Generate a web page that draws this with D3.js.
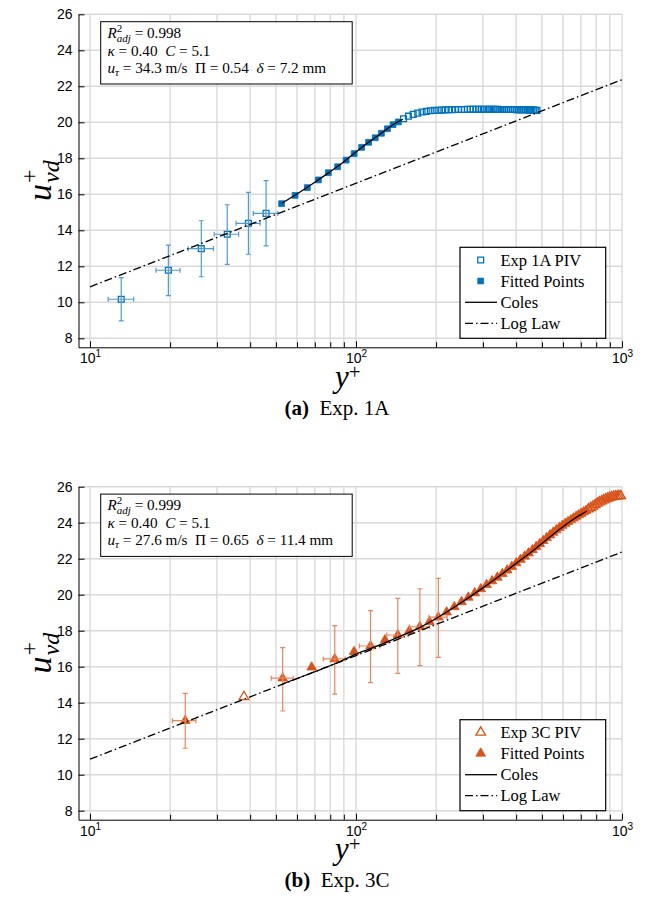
<!DOCTYPE html>
<html>
<head>
<meta charset="utf-8">
<script src="https://cdn.jsdelivr.net/npm/d3@7"></script>
<style>
  body { margin: 0; background: #fff; }
  text { white-space: pre; }
</style>
</head>
<body>
<svg id="fig" width="646" height="922"></svg>
<script>
// axis ticks
var yTicks = [8, 10, 12, 14, 16, 18, 20, 22, 24, 26];
var xMajor = [10, 100, 1000];
var xMinor = [20, 30, 40, 50, 60, 70, 80, 90, 200, 300, 400, 500, 600, 700, 800, 900];

// log law (straight on log axis) endpoints
var logLawY = [10, 1000];
var logLawU = [10.86, 22.37];

// ---- Exp 1A ----
var pivA_y = [13.1, 19.7, 26.2, 32.8, 39.4, 45.9,
  150.9, 157.4, 164.0, 170.6, 177.1, 183.7, 190.2, 196.8, 203.4, 209.9,
  216.5, 223.0, 229.6, 236.2, 242.7, 249.3, 255.8, 262.4, 269.0, 275.5,
  282.1, 288.6, 295.2, 301.8, 308.3, 314.9, 321.4, 328.0, 334.6, 341.1,
  347.7, 354.2, 360.8, 367.4, 373.9, 380.5, 387.0, 393.6, 400.2, 406.7,
  413.3, 419.8, 426.4, 433.0, 439.5, 446.1, 452.6, 459.2, 465.8, 472.3, 478.9];
var pivA_u = [10.17, 11.78, 12.98, 13.78, 14.39, 14.94,
  20.2, 20.34, 20.44, 20.51, 20.57, 20.61, 20.64, 20.66, 20.67, 20.68,
  20.69, 20.7, 20.7, 20.71, 20.71, 20.71, 20.71, 20.72, 20.72, 20.72,
  20.72, 20.72, 20.72, 20.72, 20.72, 20.72, 20.72, 20.72, 20.72, 20.72,
  20.71, 20.71, 20.71, 20.71, 20.71, 20.71, 20.71, 20.71, 20.7, 20.7,
  20.7, 20.7, 20.7, 20.7, 20.69, 20.69, 20.69, 20.68, 20.68, 20.67, 20.66];
var fitA_y = [52.5, 59.0, 65.6, 72.2, 78.7, 85.3, 91.8, 98.4, 105.0, 111.5, 118.1, 124.6, 131.2, 137.8, 144.3];
var fitA_u = [15.48, 15.94, 16.37, 16.8, 17.2, 17.53, 17.9, 18.26, 18.61, 18.89, 19.14, 19.39, 19.64, 19.87, 20.02];
var colesA_y = [52.5, 60, 70, 80, 90, 100, 110, 120, 130, 140, 150];
var colesA_u = [15.5, 16.02, 16.67, 17.26, 17.81, 18.35, 18.83, 19.22, 19.6, 19.93, 20.17];
var errA_y = [13.1, 19.7, 26.2, 32.8, 39.4, 45.9];
var errA_u = [10.17, 11.78, 12.98, 13.78, 14.39, 14.94];
var errA_xlo = [11.7, 17.7, 23.4, 29.3, 35.4, 41.1];
var errA_xhi = [14.6, 21.8, 29.1, 36.2, 43.6, 50.8];
var errA_ulo = [8.97, 10.37, 11.42, 12.11, 12.67, 13.14];
var errA_uhi = [11.37, 13.18, 14.53, 15.42, 16.11, 16.76];

// ---- Exp 3C ----
var pivB_y = [37.9, 747.6, 762.7, 777.8, 792.9, 808.0, 823.1, 838.2, 853.3, 868.4,
  883.5, 898.6, 913.7, 928.8, 943.9, 959.0, 974.1, 989.2];
var pivB_u = [14.33, 24.75, 24.83, 24.91, 24.99, 25.07, 25.14, 25.2, 25.26, 25.31,
  25.35, 25.39, 25.42, 25.45, 25.47, 25.48, 25.49, 25.49];
var fitB_y = [22.8, 53.0, 68.1, 83.2, 98.3, 113.4, 128.5, 143.6, 158.7, 173.8, 188.9,
  204.0, 219.1, 234.2, 249.3, 264.4, 279.5, 294.6, 309.7, 324.8, 339.9,
  355.0, 370.1, 385.2, 400.3, 415.4, 430.5, 445.6, 460.7, 475.8, 490.9,
  506.0, 521.1, 536.2, 551.3, 566.4, 581.5, 596.6, 611.7, 626.8, 641.9,
  657.0, 672.1, 687.2, 702.3, 717.4, 732.5];
var fitB_u = [13.0, 15.36, 15.97, 16.43, 16.83, 17.15, 17.48, 17.76, 18.0, 18.22, 18.5,
  18.75, 19.03, 19.32, 19.6, 19.85, 20.09, 20.32, 20.55, 20.76, 20.96,
  21.16, 21.36, 21.56, 21.76, 21.95, 22.13, 22.31, 22.49, 22.66, 22.83,
  23.0, 23.16, 23.31, 23.46, 23.59, 23.72, 23.84, 23.95, 24.05, 24.15,
  24.25, 24.34, 24.43, 24.51, 24.59, 24.67];
var colesB_y = [53, 70, 85, 100, 125, 150, 175, 200, 250, 300, 350, 400, 450, 500, 550, 600, 650, 700, 736];
var colesB_u = [15.05, 15.72, 16.22, 16.7, 17.25, 17.75, 18.2, 18.68, 19.58, 20.38, 21.1, 21.74, 22.3, 22.85, 23.35, 23.78, 24.15, 24.45, 24.64];
var errB_y = [22.8, 53.0, 83.2, 113.4, 143.6, 173.8, 204.0];
var errB_u = [13.0, 15.36, 16.43, 17.15, 17.76, 18.22, 18.75];
var errB_xlo = [20.4, 48, 75.3, 103, 130.5, 159, 188];
var errB_xhi = [25, 58.1, 91, 123, 157, 189, 220];
var errB_ulo = [11.47, 13.54, 14.48, 15.11, 15.63, 16.06, 16.52];
var errB_uhi = [14.52, 17.06, 18.28, 19.11, 19.8, 20.33, 20.91];

var serif = "'Liberation Serif', 'Times New Roman', serif";
var sans = "'Liberation Sans', Arial, sans-serif";
var svg = d3.select('#fig');

function zip(a, b) { return a.map((v, i) => [v, b[i]]); }

function panel(off, cfg) {
  var g = svg.append('g').attr('transform', 'translate(0,' + off + ')');
  var x = d3.scaleLog().domain([9.05, 1000]).range([78.5, 622]);
  var y = d3.scaleLinear().domain([7.5, 26]).range([347.3, 14.3]);

  // grid
  var grid = g.append('g').attr('stroke', '#dadada').attr('stroke-width', 1.4);
  grid.selectAll('.gx').data(xMajor.concat(xMinor)).join('line')
    .attr('x1', d => x(d)).attr('x2', d => x(d))
    .attr('y1', y(7.5)).attr('y2', y(26));
  grid.selectAll('.gy').data(yTicks).join('line')
    .attr('x1', x(9.05)).attr('x2', x(1000))
    .attr('y1', d => y(d)).attr('y2', d => y(d));

  var line = d3.line().x(d => x(d[0])).y(d => y(d[1]));

  // markers
  var sym = d3.symbol().type(cfg.shape).size(cfg.size);
  g.append('g').selectAll('path').data(zip(cfg.pivY, cfg.pivU)).join('path')
    .attr('transform', d => 'translate(' + x(d[0]) + ',' + y(d[1]) + ')')
    .attr('d', sym).attr('fill', 'none').attr('stroke', cfg.color).attr('stroke-width', 1.3);
  g.append('g').selectAll('path').data(zip(cfg.fitY, cfg.fitU)).join('path')
    .attr('transform', d => 'translate(' + x(d[0]) + ',' + y(d[1]) + ')')
    .attr('d', sym).attr('fill', cfg.color).attr('stroke', cfg.color).attr('stroke-width', 0.8);

  // error bars
  var eb = g.append('g').attr('stroke', cfg.errColor).attr('stroke-width', 1.2).attr('fill', 'none');
  cfg.errY.forEach(function (v, i) {
    var cx = x(v), cy = y(cfg.errU[i]);
    var y0 = y(cfg.errLo[i]), y1 = y(cfg.errHi[i]);
    var x0 = x(cfg.errXlo[i]), x1 = x(cfg.errXhi[i]);
    eb.append('path').attr('d',
      'M' + cx + ',' + y0 + 'V' + y1 +
      'M' + (cx - 2.5) + ',' + y0 + 'H' + (cx + 2.5) +
      'M' + (cx - 2.5) + ',' + y1 + 'H' + (cx + 2.5) +
      'M' + x0 + ',' + cy + 'H' + x1 +
      'M' + x0 + ',' + (cy - 2.5) + 'V' + (cy + 2.5) +
      'M' + x1 + ',' + (cy - 2.5) + 'V' + (cy + 2.5));
  });

  // Coles and log law
  g.append('path').datum(zip(cfg.colesY, cfg.colesU))
    .attr('d', line.curve(d3.curveMonotoneX)).attr('fill', 'none')
    .attr('stroke', '#000').attr('stroke-width', 1.3);
  g.append('path').datum(zip(logLawY, logLawU))
    .attr('d', d3.line().x(d => x(d[0])).y(d => y(d[1])))
    .attr('fill', 'none').attr('stroke', '#000').attr('stroke-width', 1.3)
    .attr('stroke-dasharray', '8,3,1.5,3');

  // axes
  var ay = g.append('g').attr('transform', 'translate(' + x(9.05) + ',0)')
    .call(d3.axisLeft(y).tickValues(yTicks).tickSize(-6).tickPadding(6).tickSizeOuter(0));
  ay.selectAll('text').attr('font-family', sans).attr('font-size', 14).attr('fill', '#000');

  g.append('g').attr('transform', 'translate(0,' + y(7.5) + ')')
    .call(d3.axisBottom(x).tickValues(xMinor).tickSize(-5).tickFormat(() => '').tickSizeOuter(0));
  var axm = g.append('g').attr('transform', 'translate(0,' + y(7.5) + ')')
    .call(d3.axisBottom(x).tickValues(xMajor).tickSize(-6).tickFormat(() => '').tickSizeOuter(0));
  axm.select('.domain').remove();
  axm.selectAll('.tick').each(function (d) {
    var t = d3.select(this).append('text').attr('y', 16).attr('fill', '#000')
      .attr('font-family', sans).attr('font-size', 14).attr('text-anchor', 'middle');
    t.append('tspan').text('10');
    t.append('tspan').attr('font-size', 10).attr('dy', -6).text(String(Math.round(Math.log10(d))));
  });
  g.selectAll('.domain').attr('stroke', '#000');

  // axis labels
  var yl = g.append('g').attr('transform', 'translate(51,201) rotate(-90)');
  var tu = yl.append('text').attr('font-family', serif).attr('font-style', 'italic').attr('font-size', 34).text('u');
  var w = tu.node().getComputedTextLength();
  yl.append('text').attr('x', w + 1).attr('y', -14).attr('font-family', serif).attr('font-size', 24).text('+');
  yl.append('text').attr('x', w + 1).attr('y', 8).attr('font-family', serif).attr('font-style', 'italic').attr('font-size', 24).text('vd');

  var xl = g.append('text').attr('x', 335).attr('y', 387).attr('font-family', serif).attr('font-size', 31);
  xl.append('tspan').attr('font-style', 'italic').text('y');
  xl.append('tspan').attr('font-size', 21).attr('dy', -8).text('+');

  var cap = g.append('text').attr('x', 337).attr('y', 415).attr('text-anchor', 'middle')
    .attr('font-family', serif).attr('font-size', 21);
  cap.append('tspan').attr('font-weight', 'bold').text(cfg.capA);
  cap.append('tspan').text('  ' + cfg.capB);

  // annotation box
  g.append('rect').attr('x', 100.7).attr('y', 21.7).attr('width', 251.5).attr('height', 62.3)
    .attr('fill', '#fff').attr('stroke', '#000').attr('stroke-width', 1);
  var fs = 15.2;
  var t1 = g.append('text').attr('x', 107.5).attr('y', 38).attr('font-family', serif).attr('font-size', fs);
  t1.append('tspan').attr('font-style', 'italic').text('R');
  t1.append('tspan').attr('font-size', 11).attr('dy', -6.5).text('2');
  t1.append('tspan').attr('font-size', 11).attr('font-style', 'italic').attr('dx', -5.5).attr('dy', 10).text('adj');
  t1.append('tspan').attr('dy', -3.5).text(' = ' + cfg.r2);
  var t2 = g.append('text').attr('x', 107.5).attr('y', 55.5).attr('font-family', serif).attr('font-size', fs);
  t2.append('tspan').attr('font-style', 'italic').text('κ');
  t2.append('tspan').text(' = ' + cfg.kappa + '  ');
  t2.append('tspan').attr('font-style', 'italic').text('C');
  t2.append('tspan').text(' = ' + cfg.C);
  var t3 = g.append('text').attr('x', 107.5).attr('y', 73).attr('font-family', serif).attr('font-size', fs);
  t3.append('tspan').attr('font-style', 'italic').text('u');
  t3.append('tspan').attr('font-size', 11).attr('font-style', 'italic').attr('dy', 3).text('τ');
  t3.append('tspan').attr('dy', -3).text(' = ' + cfg.utau + ' m/s  Π = ' + cfg.Pi + '  ');
  t3.append('tspan').attr('font-style', 'italic').text('δ');
  t3.append('tspan').text(' = ' + cfg.delta + ' mm');

  // legend
  var lg = g.append('g');
  lg.append('rect').attr('x', 460).attr('y', 247.3).attr('width', 145.7).attr('height', 91)
    .attr('fill', '#fff').attr('stroke', '#000').attr('stroke-width', 1.2);
  var rows = [260, 281, 302.3, 323.3];
  lg.append('path').attr('transform', 'translate(480.7,' + rows[0] + ')').attr('d', sym)
    .attr('fill', 'none').attr('stroke', cfg.color).attr('stroke-width', 1.3);
  lg.append('path').attr('transform', 'translate(480.7,' + rows[1] + ')').attr('d', sym)
    .attr('fill', cfg.color).attr('stroke', cfg.color).attr('stroke-width', 0.8);
  lg.append('line').attr('x1', 465).attr('x2', 497).attr('y1', rows[2]).attr('y2', rows[2])
    .attr('stroke', '#000').attr('stroke-width', 1.3);
  lg.append('line').attr('x1', 465).attr('x2', 497).attr('y1', rows[3]).attr('y2', rows[3])
    .attr('stroke', '#000').attr('stroke-width', 1.3).attr('stroke-dasharray', '8,3,1.5,3');
  [cfg.legend, 'Fitted Points', 'Coles', 'Log Law'].forEach(function (s, i) {
    lg.append('text').attr('x', 500.5).attr('y', rows[i] + 5.5).attr('font-family', serif)
      .attr('font-size', 16.5).text(s);
  });
}

panel(0, {
  color: '#0072BD', errColor: '#4f9bd3', shape: d3.symbolSquare, size: 34,
  pivY: pivA_y, pivU: pivA_u, fitY: fitA_y, fitU: fitA_u,
  colesY: colesA_y, colesU: colesA_u,
  errY: errA_y, errU: errA_u, errXlo: errA_xlo, errXhi: errA_xhi, errLo: errA_ulo, errHi: errA_uhi,
  r2: '0.998', kappa: '0.40', C: '5.1', utau: '34.3', Pi: '0.54', delta: '7.2',
  legend: 'Exp 1A PIV', capA: '(a)', capB: 'Exp. 1A'
});
panel(472.4, {
  color: '#D95319', errColor: '#e8875c', shape: d3.symbolTriangle, size: 40,
  pivY: pivB_y, pivU: pivB_u, fitY: fitB_y, fitU: fitB_u,
  colesY: colesB_y, colesU: colesB_u,
  errY: errB_y, errU: errB_u, errXlo: errB_xlo, errXhi: errB_xhi, errLo: errB_ulo, errHi: errB_uhi,
  r2: '0.999', kappa: '0.40', C: '5.1', utau: '27.6', Pi: '0.65', delta: '11.4',
  legend: 'Exp 3C PIV', capA: '(b)', capB: 'Exp. 3C'
});
</script>
</body>
</html>
